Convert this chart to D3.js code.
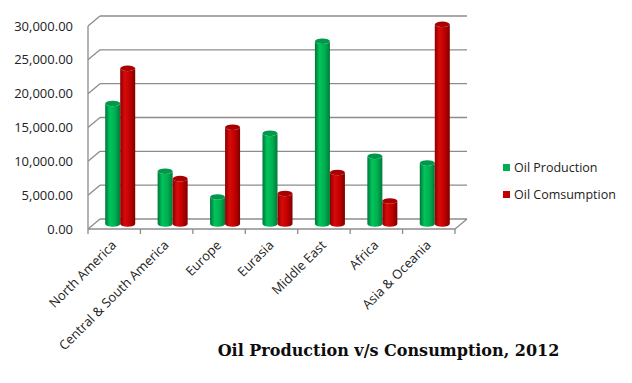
<!DOCTYPE html>
<html>
<head>
<meta charset="utf-8">
<script src="https://cdn.jsdelivr.net/npm/d3@7"></script>
<style>
  body { margin: 0; background: #fff; }
  svg { display: block; }
</style>
</head>
<body>
<svg></svg>
<script>
const width = 632;
const height = 383;

const regions = ["North America", "Central & South America", "Europe", "Eurasia",
                 "Middle East", "Africa", "Asia & Oceania"];
const production = [17800, 7800, 4000, 13400, 27000, 10000, 9000];
const consumption = [23000, 6700, 14300, 4500, 7600, 3400, 29500];
const seriesNames = ["Oil Production", "Oil Comsumption"];
const yTicks = [0, 5000, 10000, 15000, 20000, 25000, 30000];

// depth of the 3d box
const dx = 12, dy = -10;

const svg = d3.select("svg")
  .attr("width", width)
  .attr("height", height);

const xScale = d3.scaleBand()
  .domain(regions)
  .range([88, 455]);

const yScale = d3.scaleLinear()
  .domain([0, 30000])
  .range([229, 26]);

const xSub = d3.scaleBand()
  .domain(seriesNames)
  .range([0, 30]);

const colors = {
  "Oil Production": ["#00733a", "#00c45c", "#00b050", "#007a3a"],
  "Oil Comsumption": ["#8a0000", "#d80a0a", "#c00000", "#7e0000"]
};

// gradients for the cylinders
const defs = svg.append("defs");
seriesNames.forEach((s, i) => {
  const g = defs.append("linearGradient")
    .attr("id", "grad" + i)
    .attr("x1", "0%").attr("x2", "100%");
  g.append("stop").attr("offset", "0%").attr("stop-color", colors[s][0]);
  g.append("stop").attr("offset", "30%").attr("stop-color", colors[s][1]);
  g.append("stop").attr("offset", "65%").attr("stop-color", colors[s][2]);
  g.append("stop").attr("offset", "100%").attr("stop-color", colors[s][3]);
});

const gridColor = "#8c8c8c";
const x0 = xScale.range()[0], x1 = xScale.range()[1];

// back wall gridlines + left wall diagonals
const grid = svg.append("g");
yTicks.forEach(v => {
  const y = yScale(v);
  grid.append("line")
    .attr("x1", x0 + dx).attr("x2", x1 + dx)
    .attr("y1", y + dy).attr("y2", y + dy)
    .attr("stroke", gridColor).attr("stroke-width", 1.3);
  grid.append("line")
    .attr("x1", x0).attr("x2", x0 + dx)
    .attr("y1", y).attr("y2", y + dy)
    .attr("stroke", gridColor).attr("stroke-width", 1.3);
});

// left axis line, floor front edge and right floor edge
grid.append("line")
  .attr("x1", x0).attr("x2", x0)
  .attr("y1", yScale(30000)).attr("y2", yScale(0))
  .attr("stroke", gridColor).attr("stroke-width", 1.3);
grid.append("line")
  .attr("x1", x0).attr("x2", x1)
  .attr("y1", yScale(0)).attr("y2", yScale(0))
  .attr("stroke", gridColor).attr("stroke-width", 1.3);
grid.append("line")
  .attr("x1", x1).attr("x2", x1 + dx)
  .attr("y1", yScale(0)).attr("y2", yScale(0) + dy)
  .attr("stroke", gridColor).attr("stroke-width", 1.3);

// category ticks
const tickPos = regions.map(r => xScale(r)).concat([x1]);
grid.selectAll(".ctick")
  .data(tickPos)
  .enter()
  .append("line")
    .attr("x1", d => d).attr("x2", d => d)
    .attr("y1", yScale(0)).attr("y2", yScale(0) + 5)
    .attr("stroke", gridColor).attr("stroke-width", 1.3);

// y labels
svg.append("g")
  .selectAll("text")
  .data(yTicks)
  .enter()
  .append("text")
    .attr("x", 73)
    .attr("y", d => yScale(d))
    .attr("dy", "0.35em")
    .style("text-anchor", "end")
    .style("font-family", "'Open Sans', sans-serif")
    .style("font-size", "13px")
    .style("fill", "#222")
    .text(d => d3.format(",.2f")(d));

// x labels
svg.append("g")
  .selectAll("text")
  .data(regions)
  .enter()
  .append("text")
    .attr("transform", d => `translate(${xScale(d) + xScale.bandwidth() / 2 + 3},${yScale(0) + 17}) rotate(-45)`)
    .style("text-anchor", "end")
    .style("font-family", "'Open Sans', sans-serif")
    .style("font-size", "13px")
    .style("fill", "#222")
    .text(d => d);

// cylinders
const rows = [];
regions.forEach((r, i) => {
  rows.push({region: r, series: seriesNames[0], idx: 0, value: production[i]});
  rows.push({region: r, series: seriesNames[1], idx: 1, value: consumption[i]});
});

const ry = 2.8;
function barX(d) {
  return xScale(d.region) + (xScale.bandwidth() - 30) / 2 + dx / 2 + xSub(d.series);
}
function cylinderBody(d) {
  const w = xSub.bandwidth();
  const x = barX(d);
  const yTop = yScale(d.value) + dy / 2;
  const yBot = yScale(0) + dy / 2;
  const rx = w / 2;
  return `M${x},${yTop} L${x},${yBot} A${rx},${ry} 0 0 0 ${x + w},${yBot} L${x + w},${yTop} A${rx},${ry} 0 0 1 ${x},${yTop} Z`;
}

const bars = svg.append("g")
  .selectAll("g")
  .data(rows)
  .enter()
  .append("g");

bars.append("path")
  .attr("d", cylinderBody)
  .attr("fill", d => `url(#grad${d.idx})`);

bars.append("ellipse")
  .attr("cx", d => barX(d) + xSub.bandwidth() / 2)
  .attr("cy", d => yScale(d.value) + dy / 2)
  .attr("rx", xSub.bandwidth() / 2)
  .attr("ry", ry)
  .attr("fill", d => d.idx === 0 ? "#00994a" : "#a80000");

// legend
const legend = svg.append("g")
  .selectAll("g")
  .data(seriesNames)
  .enter()
  .append("g")
    .attr("transform", (d, i) => `translate(503,${164 + i * 27})`);

legend.append("rect")
  .attr("width", 7).attr("height", 7)
  .attr("fill", (d, i) => i === 0 ? "#00b050" : "#c00000");

legend.append("text")
  .attr("x", 11)
  .attr("y", 4)
  .attr("dy", "0.35em")
  .style("font-family", "'Open Sans', sans-serif")
  .style("font-size", "12.5px")
  .style("fill", "#222")
  .text(d => d);

// title
svg.append("text")
  .attr("x", 388.5)
  .attr("y", 356)
  .style("text-anchor", "middle")
  .style("font-family", "'DejaVu Serif', serif")
  .style("font-weight", "bold")
  .style("font-size", "16px")
  .style("fill", "#0d0d0d")
  .text("Oil Production v/s Consumption, 2012");
</script>
</body>
</html>
